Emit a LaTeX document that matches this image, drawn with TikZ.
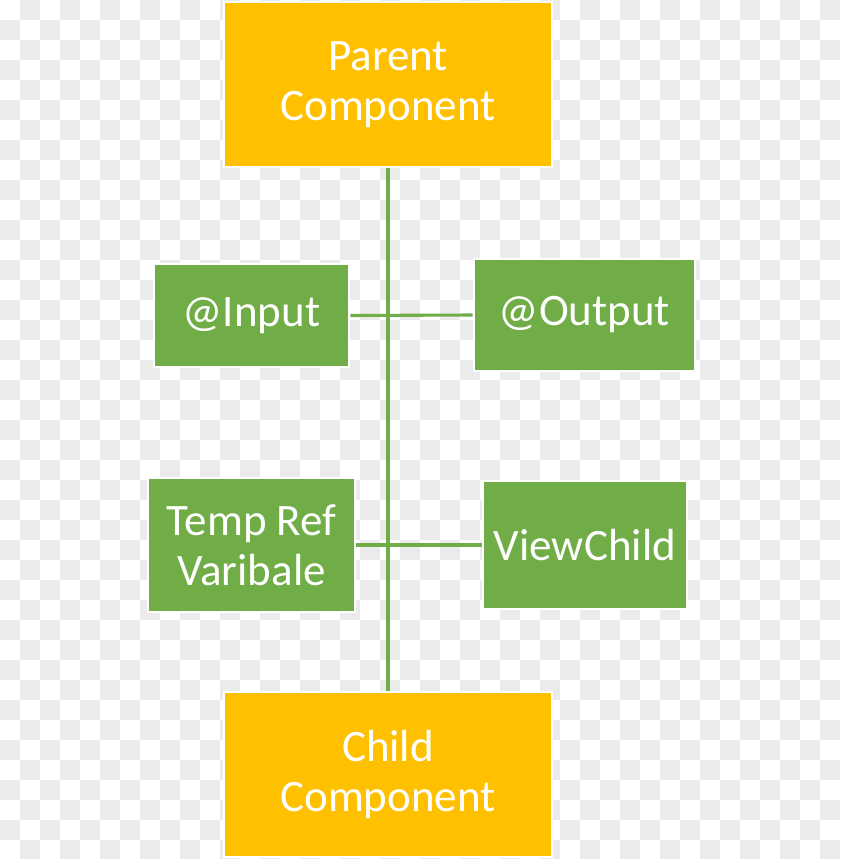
\documentclass[tikz,border=0pt]{standalone}
\usepackage{fontspec}
\setmainfont{Carlito}
\definecolor{compyellow}{RGB}{255,192,0}
\definecolor{decogreen}{RGB}{112,173,71}
\definecolor{checkgray}{RGB}{235,235,235}
\usepackage{tikz}
\usetikzlibrary{positioning}

\tikzset{
    compbox/.style={rectangle, fill=compyellow, draw=white, line width=2pt, text=white, align=center,
        font=\fontsize{32}{35.5}\selectfont},
    decobox/.style={rectangle, fill=decogreen, draw=white, line width=2pt, text=white, align=center,
        font=\fontsize{32}{35.5}\selectfont},
    link/.style={draw=decogreen, line width=2.2pt}
}

\begin{document}
\begin{tikzpicture}[x=0.025cm, y=-0.025cm]
    % checkered background
    \useasboundingbox (0,0) rectangle (840,859);
    \begin{scope}
        \clip (0,0) rectangle (840,859);
        \fill[white] (0,0) rectangle (840,859);
        \foreach \j in {0,...,42} {
            \foreach \i in {0,...,41} {
                \pgfmathtruncatemacro{\odd}{mod(\i+\j,2)}
                \ifnum\odd=1
                    \fill[checkgray] (20*\i,20*\j) rectangle ++(20,20);
                \fi
            }
        }
    \end{scope}

    \node[compbox, minimum width=8.2cm, minimum height=4.125cm] (parent) at (388,84.5) {Parent\\Component};
    \node[compbox, minimum width=8.2cm, minimum height=4.125cm] (child) at (388,774.5) {Child\\Component};

    \node[decobox, minimum width=4.875cm, minimum height=2.575cm] (input) at (251.5,315.5) {@Input};
    \node[decobox, minimum width=5.525cm, minimum height=2.8cm] (output) at (584.5,315) {@Output};
    \node[decobox, minimum width=5.175cm, minimum height=3.35cm] (tempref) at (251.5,545) {Temp Ref\\Varibale};
    \node[decobox, minimum width=5.1cm, minimum height=3.2cm] (viewchild) at (585,545) {ViewChild};

    \draw[link] (parent.south) -- (child.north);
    \draw[link] (input.east) -- (output.west);
    \draw[link] (tempref.east) -- (viewchild.west);
\end{tikzpicture}
\end{document}
